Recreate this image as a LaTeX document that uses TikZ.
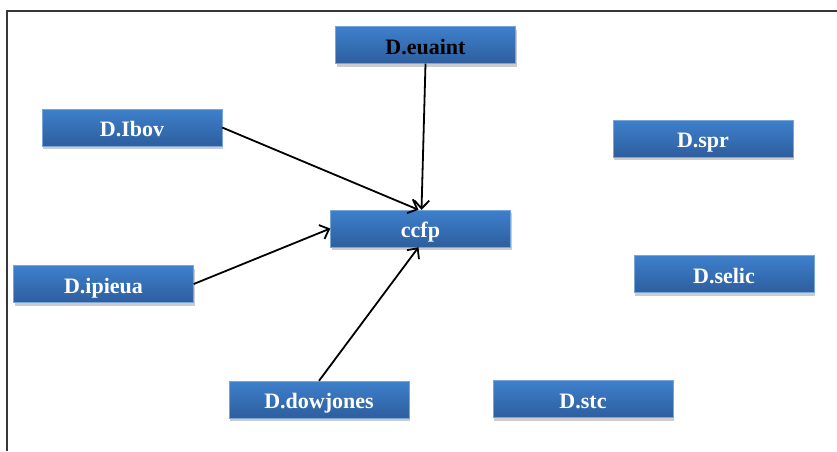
\documentclass[tikz,border=0pt]{standalone}
\usepackage{fontspec}
\setmainfont{Liberation Serif}
\usetikzlibrary{arrows.meta,shadows}
\definecolor{boxtop}{RGB}{62,128,204}
\definecolor{boxbot}{RGB}{46,94,158}
\definecolor{framec}{RGB}{55,55,55}
\tikzset{
  vbox/.style={rectangle, minimum width=180pt, minimum height=37pt, inner sep=0pt,
    text height=18pt, text depth=0pt,
    top color=boxtop, bottom color=boxbot, draw=boxtop!70!white, line width=0.4pt,
    drop shadow={opacity=0.4, shadow xshift=1pt, shadow yshift=-3pt},
    text=white, font=\fontsize{22}{26}\selectfont\bfseries},
  conn/.style={line width=1.8pt, -{Straight Barb[length=8pt,width=15pt,line width=1.8pt]}}
}
\begin{document}
\begin{tikzpicture}[x=1pt,y=-1pt]
\useasboundingbox (0,0) rectangle (837,451);
\draw[framec, line width=1.8pt] (7,451) -- (7,11) -- (837,11);
\node[vbox, text=black] (euaint) at (425.5,45) {D.euaint};
\node[vbox] (ibov) at (132,127.5) {D.Ibov};
\node[vbox] (spr) at (703,138.5) {D.spr};
\node[vbox] (ccfp) at (420.5,228.5) {ccfp};
\node[vbox] (ipieua) at (103.5,284) {D.ipieua};
\node[vbox] (selic) at (724,274) {D.selic};
\node[vbox] (dowjones) at (319,399.5) {D.dowjones};
\node[vbox] (stc) at (583,399) {D.stc};
\draw[conn] (euaint.south) -- ([xshift=1pt]ccfp.north);
\draw[conn] (ibov.east) -- ([xshift=-2pt]ccfp.north);
\draw[conn] (ipieua.east) -- (ccfp.west);
\draw[conn] (dowjones.north) -- ([xshift=-2pt]ccfp.south);
\end{tikzpicture}
\end{document}
